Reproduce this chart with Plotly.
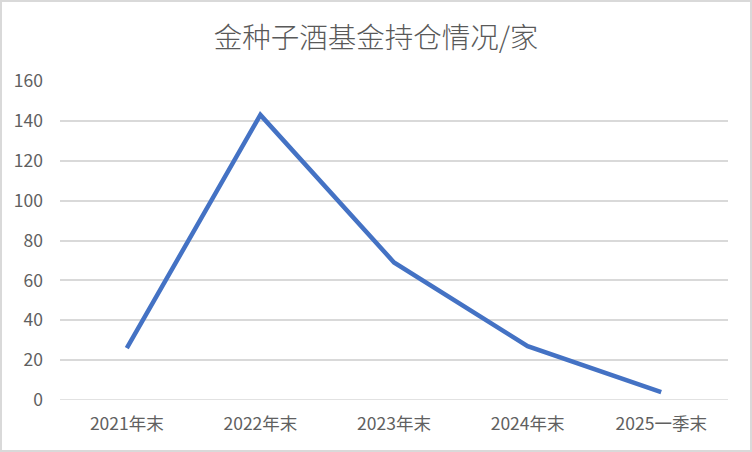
import plotly.graph_objects as go

categories = ["2021年末", "2022年末", "2023年末", "2024年末", "2025一季末"]
holdings = [26, 143, 69, 27, 4]
y_ticks = [0, 20, 40, 60, 80, 100, 120, 140, 160]

FONT = "Noto Sans CJK SC, Microsoft YaHei, sans-serif"
TXT = "#606060"

fig = go.Figure()
fig.add_trace(go.Scatter(
    x=categories, y=holdings, mode="lines",
    line=dict(color="#4472C4", width=4.5),
    hoverinfo="x+y", showlegend=False,
))

fig.update_layout(
    width=752, height=452,
    margin=dict(l=60, r=24, t=81, b=52),
    paper_bgcolor="white", plot_bgcolor="white",
    title=dict(text="金种子酒基金持仓情况/家", x=0.5, xanchor="center",
               y=1 - 38 / 452, yanchor="middle",
               font=dict(family=FONT, size=28.5, color="#595959", weight=300)),
    font=dict(family=FONT, size=18, color=TXT),
    xaxis=dict(showgrid=False, showline=False, zeroline=False, ticks="",
               tickfont=dict(size=17.5, color=TXT), ticklabelstandoff=11,
               range=[-0.5, 4.5]),
    yaxis=dict(range=[0, 160], tickvals=y_ticks, showgrid=True,
               gridcolor="#D9D9D9", gridwidth=1.5, zeroline=False, showline=False,
               ticks="", tickfont=dict(size=17.5, color=TXT),
               ticklabelstandoff=16),
    shapes=[dict(type="rect", xref="paper", yref="paper",
                 x0=-59 / 668, x1=1 + 23 / 668, y0=-51 / 319, y1=1 + 80 / 319,
                 line=dict(color="#D9D9D9", width=2), layer="below")],
)
fig.add_shape(type="line", xref="paper", yref="y", x0=0, x1=1, y0=0, y1=0,
              line=dict(color="#D9D9D9", width=1.5), layer="below")

fig.write_html("out.html", config={"displayModeBar": False},
               post_script="document.body.style.margin='0';document.body.style.overflow='hidden';")
